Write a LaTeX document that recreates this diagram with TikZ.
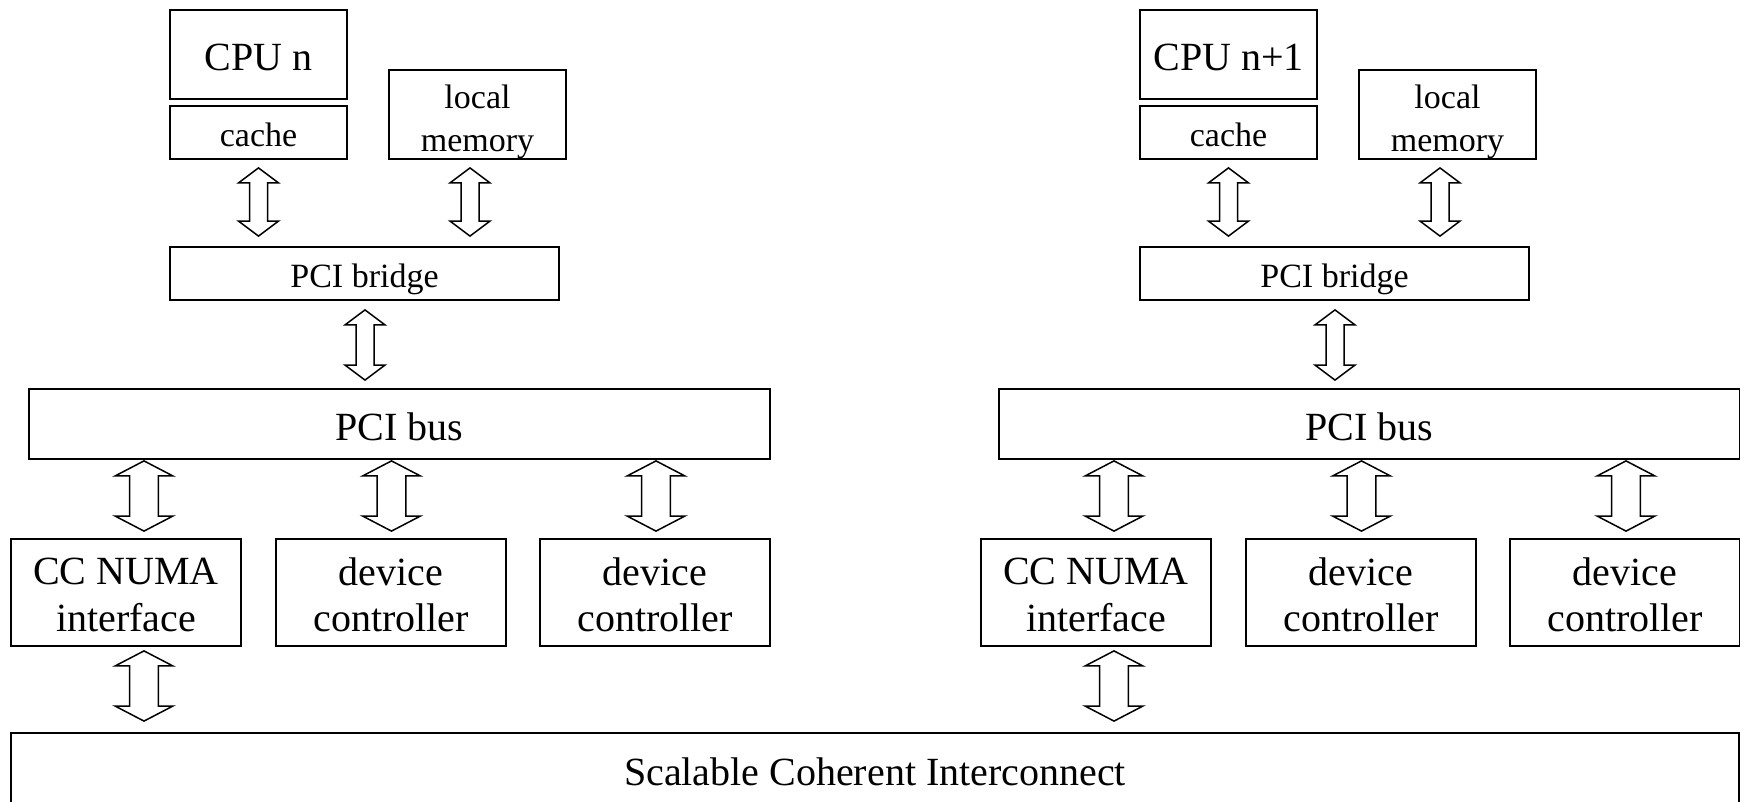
\documentclass[tikz,border=0pt]{standalone}
\usepackage{fontspec}
\setmainfont{Liberation Serif}
\usetikzlibrary{calc}

\tikzset{
  unit box/.style={draw, line width=0.9pt, inner sep=0pt},
  bigtext/.style={font=\fontsize{20pt}{23.3pt}\selectfont, align=center, inner sep=0pt},
  smalltext/.style={font=\fontsize{17pt}{21.5pt}\selectfont, align=center, inner sep=0pt},
  blockarrow/.style={draw, line width=0.75pt, line join=miter, fill=white},
}

% Hollow double-headed block arrow running down from #1 to the height of #2.
% #3: half width of the heads, #4: half width of the shaft.
\newcommand{\dblarrow}[4]{%
  \path[blockarrow] let \p1=#1, \p2=#2 in
    (\x1,\y1) -- (\x1+#3,\y1-7.5pt) -- (\x1+#4,\y1-7.5pt) -- (\x1+#4,\y2+7.5pt)
    -- (\x1+#3,\y2+7.5pt) -- (\x1,\y2) -- (\x1-#3,\y2+7.5pt) -- (\x1-#4,\y2+7.5pt)
    -- (\x1-#4,\y1-7.5pt) -- (\x1-#3,\y1-7.5pt) -- cycle;}

\begin{document}
\begin{tikzpicture}[x=0.5pt, y=-0.5pt]
\useasboundingbox (0,0) rectangle (1740,802);
\clip (0,0) rectangle (1740,802);

% shared interconnect along the bottom
\node[unit box, minimum width=864pt, minimum height=38.5pt,
      label={[bigtext]center:Scalable Coherent Interconnect}]
  (sci) at (875,771.5) {};

% one NUMA node per processor
\foreach \dx/\s/\cpu in {0/L/CPU n, 970/R/CPU n+1} {
  \node[unit box, minimum width=88.5pt, minimum height=44.5pt,
        label={[bigtext, yshift=-1.65pt]center:\cpu}]
    (cpu\s) at (258.5+\dx,54.5) {};
  \node[unit box, minimum width=88.5pt, minimum height=26.5pt,
        label={[smalltext, yshift=-1.2pt]center:cache}]
    (cache\s) at (258.5+\dx,132.5) {};
  \node[unit box, minimum width=88.5pt, minimum height=44.5pt,
        label={[smalltext, yshift=-3.7pt]center:{local\\memory}}]
    (mem\s) at (477.5+\dx,114.5) {};
  \node[unit box, minimum width=194.5pt, minimum height=26.5pt,
        label={[smalltext, yshift=-2.95pt]center:PCI bridge}]
    (bridge\s) at (364.5+\dx,273.5) {};
  \node[unit box, minimum width=370.5pt, minimum height=35pt,
        label={[bigtext, yshift=-1.3pt]center:PCI bus}]
    (bus\s) at (399.5+\dx,424) {};
  \node[unit box, minimum width=115pt, minimum height=53.5pt,
        label={[bigtext, yshift=-1.25pt]center:{CC NUMA\\interface}}]
    (cc\s) at (126+\dx,592.5) {};
  \node[unit box, minimum width=115pt, minimum height=53.5pt,
        label={[bigtext, yshift=-1.2pt]center:{device\\controller}}]
    (devA\s) at (391+\dx,592.5) {};
  \node[unit box, minimum width=115pt, minimum height=53.5pt,
        label={[bigtext, yshift=-1.2pt]center:{device\\controller}}]
    (devB\s) at (655+\dx,592.5) {};

  % processor side links
  \dblarrow{($(cache\s.south)+(0,8)$)}{($(bridge\s.north)+(0,-10)$)}{10pt}{4.5pt}
  \dblarrow{($(mem\s.south)+(-7.5,8)$)}{($(bridge\s.north)+(0,-10)$)}{10pt}{4.5pt}
  \dblarrow{($(bridge\s.south)+(0.5,9)$)}{($(bus\s.north)+(0,-8)$)}{10pt}{4.5pt}

  % bus side links
  \dblarrow{($(bus\s.south -| cc\s.north)+(18,1)$)}{($(cc\s.north)+(0,-7)$)}{14.4pt}{7.2pt}
  \dblarrow{($(bus\s.south -| devA\s.north)+(0.5,1)$)}{($(devA\s.north)+(0,-7)$)}{14.4pt}{7.2pt}
  \dblarrow{($(bus\s.south -| devB\s.north)+(1,1)$)}{($(devB\s.north)+(0,-7)$)}{14.4pt}{7.2pt}
  \dblarrow{($(cc\s.south)+(18,4)$)}{($(sci.north)+(0,-11)$)}{14.4pt}{7.2pt}
}
\end{tikzpicture}
\end{document}
